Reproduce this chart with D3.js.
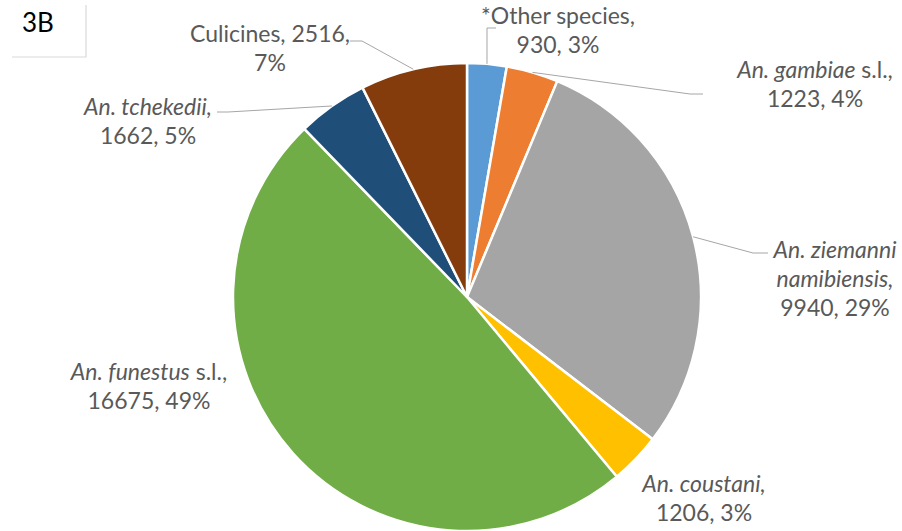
<!DOCTYPE html>
<html>
<head>
<meta charset="utf-8">
<script src="https://cdn.jsdelivr.net/npm/d3@7"></script>
<style>
  html, body { margin: 0; padding: 0; background: #fff; }
  svg text { font-family: Lato, "Open Sans", sans-serif; fill: #595959; }
</style>
</head>
<body>
<div id="chart"></div>
<script>
// Species counts, clockwise from 12 o'clock
const species = ['Other species', 'An. gambiae s.l.', 'An. ziemanni namibiensis', 'An. coustani',
  'An. funestus s.l.', 'An. tchekedii', 'Culicines'];
const counts = [930, 1223, 9940, 1206, 16675, 1662, 2516];
const percents = ['3%', '4%', '29%', '3%', '49%', '5%', '7%'];
const colors = ['#5B9BD5', '#ED7D31', '#A5A5A5', '#FFC000', '#70AD47', '#1F4E79', '#843C0C'];

// Label text lines: each line is a list of [text, italic] runs
const labelLines = [
  [[['*Other species,', false]], [['930, 3%', false]]],
  [[['An. gambiae', true], [' s.l.,', false]], [['1223, 4%', false]]],
  [[['An. ziemanni', true]], [['namibiensis,', true]], [['9940, 29%', false]]],
  [[['An. coustani,', true]], [['1206, 3%', false]]],
  [[['An. funestus', true], [' s.l.,', false]], [['16675, 49%', false]]],
  [[['An. tchekedii,', true]], [['1662, 5%', false]]],
  [[['Culicines, 2516,', false]], [['7%', false]]]
];

const W = 902, H = 531;
const cx = 467, cy = 297, R = 234;
const fontSize = 23, lineGap = 29;

// label placement (centre x, first baseline) and leader elbow/end points
const labelPos = [
  { x: 558, y: 24, leader: [[496, 28], [487, 28]] },
  { x: 815, y: 78, leader: [[703, 94], [690, 94]] },
  { x: 835, y: 258, leader: [[768, 253], [753, 253]] },
  { x: 704, y: 492, leader: null },
  { x: 149, y: 380, leader: null },
  { x: 148, y: 115, leader: [[217, 112], [228, 112]] },
  { x: 270, y: 42, leader: [[350, 41], [362, 41]] }
];

const svg = d3.select('#chart').append('svg')
  .attr('width', W)
  .attr('height', H);

// "3B" panel tag
const tag = svg.append('g');
tag.append('path')
  .attr('d', 'M86,5 V57 H12')
  .attr('fill', 'none')
  .attr('stroke', '#d9d9d9')
  .attr('stroke-width', 1.2);
tag.append('text')
  .attr('x', 22)
  .attr('y', 32)
  .style('font-size', '26px')
  .style('fill', '#000')
  .text('3B');

const pie = d3.pie().sort(null).value(d => d)(counts);
const arc = d3.arc().innerRadius(0).outerRadius(R);
const edgeArc = d3.arc().innerRadius(R).outerRadius(R);

const g = svg.append('g').attr('transform', `translate(${cx},${cy})`);

g.selectAll('path.slice')
  .data(pie)
  .join('path')
  .attr('class', 'slice')
  .attr('d', arc)
  .attr('fill', (d, i) => colors[i])
  .attr('stroke', '#fff')
  .attr('stroke-width', 2.5)
  .attr('stroke-linejoin', 'round');

// leader lines from slice edge to label
const line = d3.line();
pie.forEach((d, i) => {
  const lp = labelPos[i];
  if (!lp.leader) return;
  const [ex, ey] = edgeArc.centroid(d);
  const pts = lp.leader.concat([[ex + cx, ey + cy]]);
  svg.append('path')
    .attr('d', line(pts))
    .attr('fill', 'none')
    .attr('stroke', '#a6a6a6')
    .attr('stroke-width', 1);
});

// labels
labelLines.forEach((lines, i) => {
  const lp = labelPos[i];
  const t = svg.append('text')
    .attr('text-anchor', 'middle')
    .style('font-size', fontSize + 'px');
  lines.forEach((runs, j) => {
    runs.forEach((run, k) => {
      const ts = t.append('tspan')
        .style('font-style', run[1] ? 'italic' : 'normal')
        .text(run[0]);
      if (k === 0) ts.attr('x', lp.x).attr('y', lp.y + j * lineGap);
    });
  });
});
</script>
</body>
</html>
